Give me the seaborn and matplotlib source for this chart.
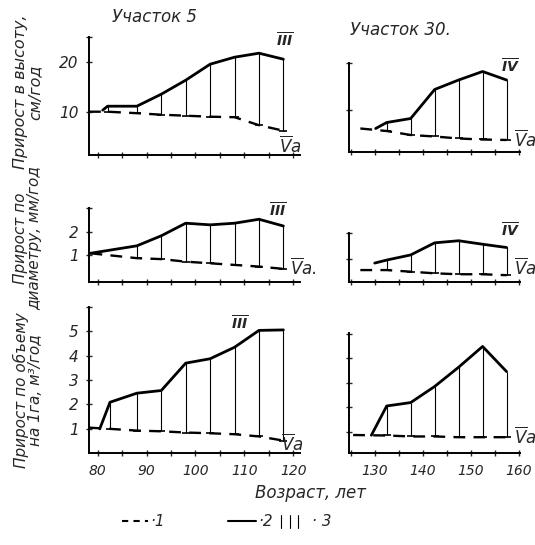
import matplotlib.pyplot as plt
import seaborn as sns
from matplotlib.lines import Line2D

# Участок 5: возраст (лет), прирост (кривая 2) и норма (кривая 1)
ages_5h = [82, 88, 93, 98, 103, 108, 113, 118]
incr_5h = [11.1, 11.1, 13.5, 16.3, 19.5, 20.9, 21.7, 20.5]
norm_5h = [10.0, 9.7, 9.4, 9.2, 9.0, 8.9, 7.3, 6.2]
start_5h = [81, 10.3]
norm0_5h = [78.2, 10.0]

ages_5d = [88, 93, 98, 103, 108, 113, 118]
incr_5d = [1.39, 1.82, 2.36, 2.29, 2.36, 2.53, 2.24]
norm_5d = [0.86, 0.82, 0.71, 0.64, 0.57, 0.50, 0.40]
start_5d = [78.5, 1.07]
norm0_5d = [78.5, 1.07]

ages_5v = [82.5, 88, 93, 98, 103, 108, 113, 118]
incr_5v = [2.09, 2.46, 2.57, 3.69, 3.87, 4.34, 5.03, 5.05]
norm_5v = [1.0, 0.93, 0.90, 0.85, 0.82, 0.78, 0.69, 0.52]
start_5v = [80.4, 1.0]
norm0_5v = [78.2, 1.05]

# Участок 30
ages_30 = [132.5, 137.5, 142.5, 147.5, 152.5, 157.5]
incr_30h = [7.5, 8.3, 14.1, 16.0, 17.7, 16.0]
norm_30h = [5.8, 5.0, 4.7, 4.3, 4.1, 4.0]
start_30h = [130.2, 6.3]
norm0_30h = [127.0, 6.3]

incr_30d = [0.97, 1.19, 1.71, 1.80, 1.65, 1.51]
norm_30d = [0.54, 0.47, 0.40, 0.36, 0.36, 0.32]
start_30d = [130.0, 0.84]
norm0_30d = [127.0, 0.54]

incr_30v = [2.05, 2.19, 2.85, 3.64, 4.49, 3.46]
norm_30v = [0.84, 0.80, 0.80, 0.77, 0.77, 0.77]
start_30v = [129.3, 0.85]
norm0_30v = [125.5, 0.86]

W, H = 535, 545

sns.set_style('ticks')
plt.rcParams['font.family'] = ['DejaVu Sans']
plt.rcParams['font.style'] = 'italic'
plt.rcParams['mathtext.default'] = 'regular'

fig = plt.figure(figsize=(W / 100, H / 100), dpi=100)


def px_axes(x0, y0, x1, y1):
    # прямоугольник в пикселях картинки -> оси
    return fig.add_axes([x0 / W, 1 - y1 / H, (x1 - x0) / W, (y1 - y0) / H])


def draw(ax, ages, incr, norm, start, norm0):
    sns.lineplot(x=[norm0[0]] + ages, y=[norm0[1]] + norm, ax=ax, color='k',
                 lw=1.7, linestyle=(0, (5, 3.5)), sort=False, estimator=None)
    sns.lineplot(x=[start[0]] + ages, y=[start[1]] + incr, ax=ax, color='k',
                 lw=2, sort=False, estimator=None)
    ax.vlines(ages, norm, incr, color='k', lw=0.8)
    ax.plot(ages, norm, linestyle='none', marker='_', ms=6, mew=1.2, color='k')


def style(ax, xlim, ylim, yticks, ylabels, xticks, xlabels):
    ax.set_xlim(*xlim)
    ax.set_ylim(*ylim)
    ax.set_yticks(yticks)
    ax.set_yticklabels(ylabels, fontsize=11)
    ax.set_xticks(xticks)
    ax.set_xticklabels(xlabels, fontsize=10)
    ax.tick_params(direction='inout', length=5, width=1, pad=5)
    for s in ['left', 'bottom']:
        ax.spines[s].set_linewidth(1.4)
        ax.spines[s].set_color('k')
    sns.despine(ax=ax)
    ax.set_xlabel('')
    ax.set_ylabel('')


ax_tl = px_axes(89, 36.7, 300, 155)
ax_ml = px_axes(89, 208.3, 300, 281.7)
ax_bl = px_axes(89, 306.7, 300, 453.3)
ax_tr = px_axes(349.3, 63.3, 520, 151.7)
ax_mr = px_axes(349.3, 233.3, 520, 281.7)
ax_br = px_axes(349.3, 333.3, 520, 453.3)

draw(ax_tl, ages_5h, incr_5h, norm_5h, start_5h, norm0_5h)
draw(ax_ml, ages_5d, incr_5d, norm_5d, start_5d, norm0_5d)
draw(ax_bl, ages_5v, incr_5v, norm_5v, start_5v, norm0_5v)
draw(ax_tr, ages_30, incr_30h, norm_30h, start_30h, norm0_30h)
draw(ax_mr, ages_30, incr_30d, norm_30d, start_30d, norm0_30d)
draw(ax_br, ages_30, incr_30v, norm_30v, start_30v, norm0_30v)

xl = (78.2, 121.4)
xr = (124.7, 160.3)
xt_l = list(range(80, 125, 5))
xt_r = list(range(125, 165, 5))
blank_l = [''] * len(xt_l)
blank_r = [''] * len(xt_r)
lab_l = [str(t) if t % 10 == 0 else '' for t in xt_l]
lab_r = [str(t) if t % 10 == 0 else '' for t in xt_r]

style(ax_tl, xl, (1.34, 25), [10, 20, 25], ['10', '20', ''], xt_l, blank_l)
style(ax_ml, xl, (-0.15, 3.0), [1, 2, 3], ['1', '2', ''], xt_l, blank_l)
style(ax_bl, xl, (0, 6), [1, 2, 3, 4, 5, 6], ['1', '2', '3', '4', '5', ''],
      xt_l, lab_l)
style(ax_tr, xr, (1.66, 19.34), [10, 19.34], ['', ''], xt_r, blank_r)
style(ax_mr, xr, (0.04, 2.12), [1, 2.12], ['', ''], xt_r, blank_r)
style(ax_br, xr, (0.11, 5.03), [1, 2, 3, 4, 5], [''] * 5, xt_r, lab_r)


def ftext(x, y, s, **kw):
    fig.text(x / W, 1 - y / H, s, **kw)


ftext(155, 17, 'Участок 5', fontsize=12, ha='center', va='center')
ftext(400, 30, 'Участок 30.', fontsize=12, ha='center', va='center')

ftext(28, 92, 'Прирост в высоту,\nсм/год', fontsize=11.5, rotation=90,
      ha='center', va='center', linespacing=0.95)
ftext(28, 238, 'Прирост по\nдиаметру, мм/год', fontsize=11, rotation=90,
      ha='center', va='center', linespacing=0.95)
ftext(28, 390, 'Прирост по объему\nна 1га, м³/год', fontsize=11, rotation=90,
      ha='center', va='center', linespacing=0.95)

roman3 = r'$\overline{\mathbf{III}}$'
roman4 = r'$\overline{\mathbf{IV}}$'
va = r'$\overline{\mathrm{V}}\mathit{a}$'
ftext(285, 40, roman3, fontsize=10, ha='center', va='center')
ftext(290, 146, va, fontsize=12, ha='center', va='center')
ftext(510, 66, roman4, fontsize=10, ha='center', va='center')
ftext(525, 140, va, fontsize=12, ha='center', va='center')
ftext(278, 210, roman3, fontsize=10, ha='center', va='center')
ftext(303, 268, va + '.', fontsize=12, ha='center', va='center')
ftext(510, 230, roman4, fontsize=10, ha='center', va='center')
ftext(525, 268, va, fontsize=12, ha='center', va='center')
ftext(240, 323, roman3, fontsize=10, ha='center', va='center')
ftext(292, 444, va, fontsize=12, ha='center', va='center')
ftext(525, 437, va, fontsize=12, ha='center', va='center')

ftext(310, 493, 'Возраст, лет', fontsize=12, ha='center', va='center')

# условные обозначения: 1 - норма, 2 - прирост, 3 - превышение
ly = 1 - 521 / H
fig.add_artist(Line2D([122 / W, 148 / W], [ly, ly], color='k', lw=1.5,
                      linestyle=(0, (3, 2.5))))
fig.add_artist(Line2D([228 / W, 256 / W], [ly, ly], color='k', lw=1.5))
for bx in [281, 290, 298]:
    fig.add_artist(Line2D([bx / W, bx / W], [ly - 7 / H, ly + 6 / H],
                          color='k', lw=0.8))
ftext(150, 521, '·1', fontsize=11, ha='left', va='center')
ftext(258, 521, '·2', fontsize=11, ha='left', va='center')
ftext(312, 521, '· 3', fontsize=11, ha='left', va='center')

fig.savefig('out.png', dpi=100)
